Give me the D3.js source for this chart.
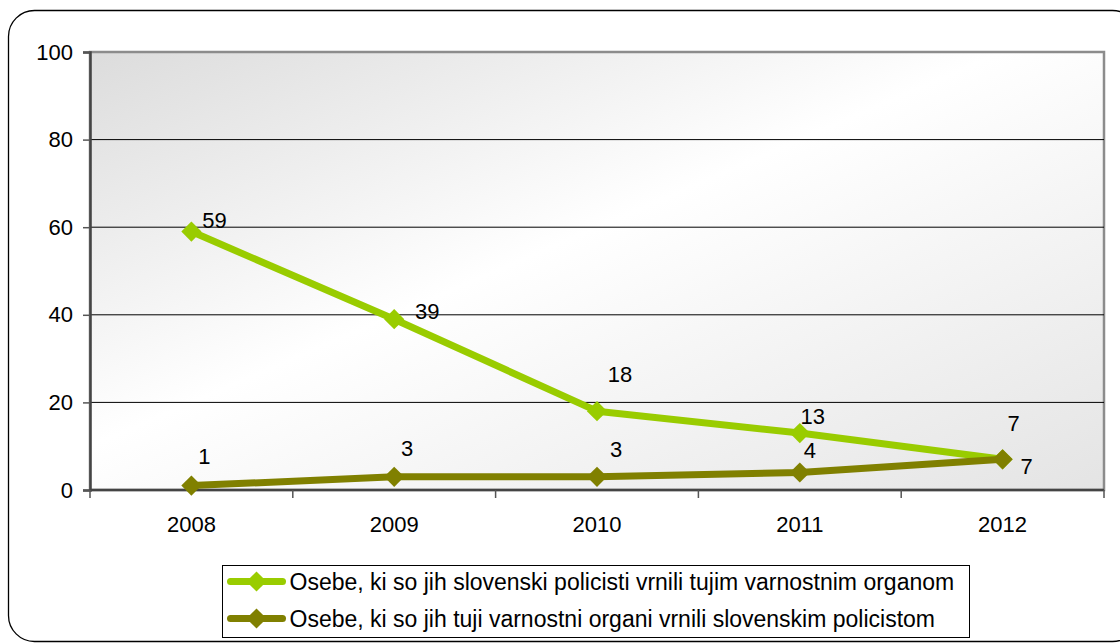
<!DOCTYPE html>
<html>
<head>
<meta charset="utf-8">
<script src="https://cdn.jsdelivr.net/npm/d3@7"></script>
<style>
  body { margin: 0; background: #fff; }
  svg { display: block; }
  svg text { font-family: "Liberation Sans", Arial, sans-serif; fill: #000; }
</style>
</head>
<body>
<svg id="chart" width="1120" height="643"></svg>
<script>
var years = ["2008", "2009", "2010", "2011", "2012"];
var returnedAbroad = [59, 39, 18, 13, 7];
var returnedHome = [1, 3, 3, 4, 7];
var yTicks = [0, 20, 40, 60, 80, 100];
var seriesNames = [
    "Osebe, ki so jih slovenski policisti vrnili tujim varnostnim organom",
    "Osebe, ki so jih tuji varnostni organi vrnili slovenskim policistom"
];
var seriesColors = ["#99cc00", "#808000"];
// label offsets from each point, as Excel placed them
var labelShift = [
    [[23, -11], [33, -8], [23, -37], [13, -17], [11, -36]],
    [[13, -29], [13, -29], [19, -28], [10, -22], [24, 7]]
];

var svg = d3.select("#chart");
var margin = {top: 52, right: 16, bottom: 153, left: 90};
var width = +svg.attr("width") - margin.left - margin.right;
var height = +svg.attr("height") - margin.top - margin.bottom;
var fontSize = 22;

// outer rounded frame
svg.append("rect")
    .attr("x", 8.5).attr("y", 10.5)
    .attr("width", 1130).attr("height", 631)
    .attr("rx", 26).attr("ry", 26)
    .attr("fill", "#fff")
    .attr("stroke", "#000").attr("stroke-width", 1.3);

var defs = svg.append("defs");
var grad = defs.append("linearGradient")
    .attr("id", "plotbg")
    .attr("x1", "0%").attr("y1", "0%").attr("x2", "100%").attr("y2", "100%");
grad.append("stop").attr("offset", "0%").attr("stop-color", "#dcdcdc");
grad.append("stop").attr("offset", "45%").attr("stop-color", "#ffffff");
grad.append("stop").attr("offset", "100%").attr("stop-color", "#e4e4e4");

var g = svg.append("g").attr("transform", "translate(" + margin.left + "," + margin.top + ")");

var x = d3.scaleBand().domain(years).range([0, width]).padding(0);
var y = d3.scaleLinear().domain([0, 100]).range([height, 0]);

g.append("rect")
    .attr("width", width).attr("height", height)
    .attr("fill", "url(#plotbg)")
    .attr("stroke", "#8c8c8c").attr("stroke-width", 2.5);

// gridlines
g.selectAll(".grid")
    .data(yTicks.filter(function(d) { return d > 0 && d < 100; }))
    .enter().append("line")
    .attr("x1", 0).attr("x2", width)
    .attr("y1", function(d) { return y(d); })
    .attr("y2", function(d) { return y(d); })
    .attr("stroke", "#000").attr("stroke-width", 1);

// y axis
var yAxis = g.append("g")
    .call(d3.axisLeft(y).tickValues(yTicks).tickSize(7).tickPadding(10));
yAxis.attr("font-size", fontSize).attr("font-family", null);
yAxis.select(".domain").attr("stroke", "#444").attr("stroke-width", 2.5);
yAxis.selectAll(".tick line").attr("stroke", "#555").attr("stroke-width", 1.5);

// x axis with ticks between categories
var xAxis = g.append("g").attr("transform", "translate(0," + height + ")");
xAxis.append("line")
    .attr("x1", 0).attr("x2", width)
    .attr("stroke", "#444").attr("stroke-width", 2.5);
xAxis.selectAll(".sep")
    .data(years.concat(["end"]))
    .enter().append("line")
    .attr("x1", function(d, i) { return i * x.bandwidth(); })
    .attr("x2", function(d, i) { return i * x.bandwidth(); })
    .attr("y1", 0).attr("y2", 8)
    .attr("stroke", "#555").attr("stroke-width", 1.5);
xAxis.selectAll(".yl")
    .data(years)
    .enter().append("text")
    .attr("x", function(d) { return x(d) + x.bandwidth() / 2; })
    .attr("y", 42)
    .attr("text-anchor", "middle")
    .attr("font-size", fontSize)
    .text(function(d) { return d; });

var line = d3.line()
    .x(function(d, i) { return x(years[i]) + x.bandwidth() / 2; })
    .y(function(d) { return y(d); });

var diamond = d3.symbol().type(d3.symbolDiamond2).size(260);

[returnedAbroad, returnedHome].forEach(function(values, s) {
    var serie = g.append("g");
    serie.append("path")
        .datum(values)
        .attr("d", line)
        .attr("fill", "none")
        .attr("stroke", seriesColors[s])
        .attr("stroke-width", 7)
        .attr("stroke-linejoin", "round");
    serie.selectAll(".pt")
        .data(values)
        .enter().append("path")
        .attr("d", diamond)
        .attr("transform", function(d, i) {
            return "translate(" + (x(years[i]) + x.bandwidth() / 2) + "," + y(d) + ")";
        })
        .attr("fill", seriesColors[s]);
});

[returnedAbroad, returnedHome].forEach(function(values, s) {
    g.selectAll(".lbl" + s)
        .data(values)
        .enter().append("text")
        .attr("x", function(d, i) { return x(years[i]) + x.bandwidth() / 2 + labelShift[s][i][0]; })
        .attr("y", function(d, i) { return y(d) + labelShift[s][i][1]; })
        .attr("text-anchor", "middle")
        .attr("dy", "0.35em")
        .attr("font-size", fontSize)
        .text(function(d) { return d; });
});

// legend
var legend = svg.append("g").attr("transform", "translate(222.5,565.5)");
legend.append("rect")
    .attr("width", 747).attr("height", 72)
    .attr("fill", "#fff").attr("stroke", "#000").attr("stroke-width", 1);
seriesNames.forEach(function(name, i) {
    var row = legend.append("g").attr("transform", "translate(0," + (16 + i * 37) + ")");
    row.append("line")
        .attr("x1", 8).attr("x2", 60)
        .attr("stroke", seriesColors[i]).attr("stroke-width", 7)
        .attr("stroke-linecap", "round");
    row.append("path")
        .attr("d", diamond)
        .attr("transform", "translate(34,0)")
        .attr("fill", seriesColors[i]);
    row.append("text")
        .attr("x", 67).attr("dy", "0.35em")
        .attr("font-size", 23)
        .text(name);
});
</script>
</body>
</html>
